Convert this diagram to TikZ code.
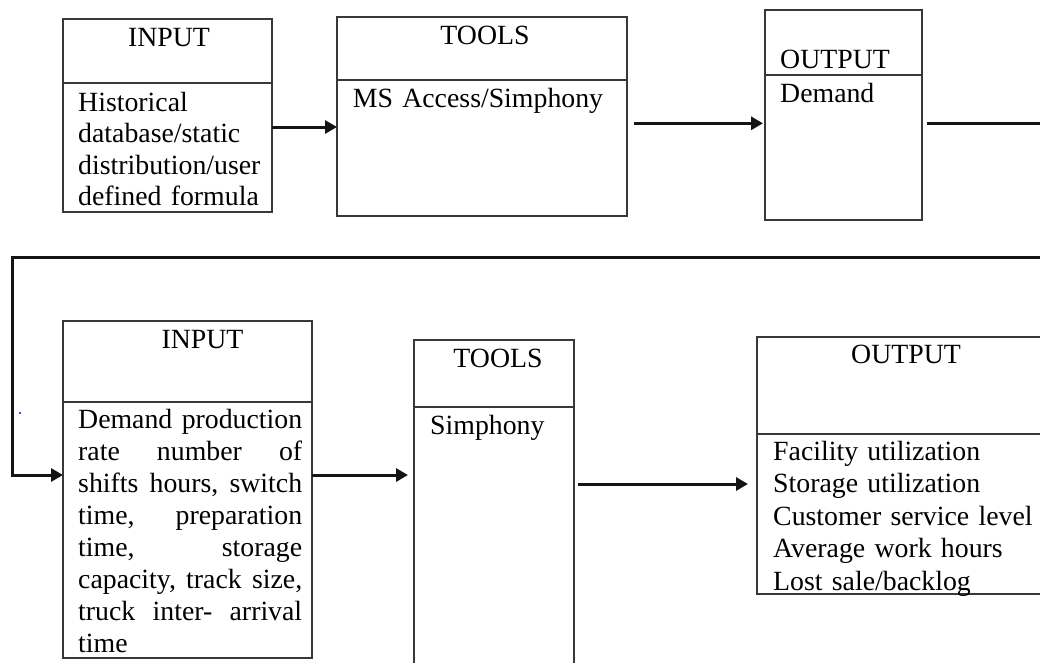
\documentclass[tikz,border=0pt]{standalone}
\usepackage{fontspec}
\setmainfont{Liberation Serif}
\usetikzlibrary{arrows.meta}
% one line of justified text, stretched to the full text width
\newcommand{\spreadline}[1]{\leavevmode\hbox to 224pt{#1}}

\begin{document}
\begin{tikzpicture}[x=1pt,y=-1pt,
  box/.style={draw=black!78, line width=1.8pt, inner sep=0pt, outer sep=0pt},
  divider/.style={draw=black!78, line width=1.8pt},
  title/.style={anchor=base, inner sep=0pt, font=\fontsize{27.8}{32}\selectfont},
  body/.style={anchor=base west, inner sep=0pt, align=left},
  conn/.style={line width=3pt, draw=black!92},
  tip/.style={-{Triangle[length=12pt,width=13pt]}}
]
\useasboundingbox (0,0) rectangle (1040,662);

% ---- first stage: demand generation ----
\node[box, minimum width=209pt, minimum height=193pt] (b1) at (167.5,115.5) {};
\draw[divider] ([yshift=-64pt]b1.north west) -- ([yshift=-64pt]b1.north east);
\node[title] (t1) at (169,46.5) {INPUT};
\node[body, text width=195pt, font=\fontsize{27.8}{31.3}\selectfont] (x1) at (78,111.5)
  {Historical\\database/static\\distribution/user\\defined formula};

\node[box, minimum width=290pt, minimum height=199pt] (b2) at (482,116.5) {};
\draw[divider] ([yshift=-63pt]b2.north west) -- ([yshift=-63pt]b2.north east);
\node[title] (t2) at (485,44.5) {TOOLS};
\node[body, text width=260pt, font=\fontsize{27.8}{32}\selectfont] (x2) at (352.7,107.3)
  {MS Access/Simphony};

\node[box, minimum width=157pt, minimum height=210pt] (b3) at (843.5,115) {};
\draw[divider] ([yshift=-65pt]b3.north west) -- ([yshift=-65pt]b3.north east);
\node[title, anchor=base west] (t3) at (780,68.5) {OUTPUT};
\node[body, text width=130pt, font=\fontsize{27.8}{32}\selectfont] (x3) at (780,102.5)
  {Demand};

% ---- second stage: simulation ----
\node[box, minimum width=249pt, minimum height=337pt] (b4) at (187.5,489.5) {};
\draw[divider] ([yshift=-81pt]b4.north west) -- ([yshift=-81pt]b4.north east);
\node[title] (t4) at (202.5,348) {INPUT};
\node[body, text width=230pt, font=\fontsize{27.8}{32.06}\selectfont] (x4) at (78,428.3)
  {\spreadline{Demand\hfill production}\\
   \spreadline{rate\hfill number\hfill of}\\
   \spreadline{shifts\hfill hours,\hfill switch}\\
   \spreadline{time,\hfill preparation}\\
   \spreadline{time,\hfill storage}\\
   \spreadline{capacity,\hfill track\hfill size,}\\
   \spreadline{truck\hfill inter-\hfill arrival}\\
   time};

\node[box, minimum width=160pt, minimum height=330pt] (b5) at (494,505) {};
\draw[divider] ([yshift=-67pt]b5.north west) -- ([yshift=-67pt]b5.north east);
\node[title] (t5) at (498,367.5) {TOOLS};
\node[body, text width=135pt, font=\fontsize{27.8}{32}\selectfont] (x5) at (430,434)
  {Simphony};

\node[box, minimum width=285pt, minimum height=257pt] (b6) at (899.5,465.5) {};
\draw[divider] ([yshift=-97pt]b6.north west) -- ([yshift=-97pt]b6.north east);
\node[title] (t6) at (906,363.5) {OUTPUT};
\node[body, text width=265pt, font=\fontsize{27.8}{32.5}\selectfont] (x6) at (773,460)
  {Facility utilization\\Storage utilization\\Customer service level\\Average work hours\\Lost sale/backlog};

% ---- connector rows and loop corners ----
\coordinate (r1) at (0,127);
\coordinate (r2) at (0,123.3);
\coordinate (loopR) at (1052,0);
\coordinate (loopTop) at (0,257.3);
\coordinate (loopL) at (12,0);
\coordinate (r4) at (0,475);
\coordinate (r5) at (0,484);

\draw[conn,tip] (b1.east |- r1) -- (b2.west |- r1);
\draw[conn,tip,shorten <=7pt,shorten >=2pt] (b2.east |- r2) -- (b3.west |- r2);
\draw[conn,tip,shorten <=5pt] (b3.east |- r2) -- (loopR |- r2) -- (loopR |- loopTop)
  -- (loopL |- loopTop) -- (loopL |- r4) -- (b4.west |- r4);
\draw[conn,tip,shorten >=6pt] (b4.east |- r4) -- (b5.west |- r4);
\draw[conn,tip,shorten <=4pt,shorten >=9pt] (b5.east |- r5) -- (b6.west |- r5);

% stray mark left of the second input box
\fill[blue] (20,413) circle (1.1pt);
\end{tikzpicture}
\end{document}
